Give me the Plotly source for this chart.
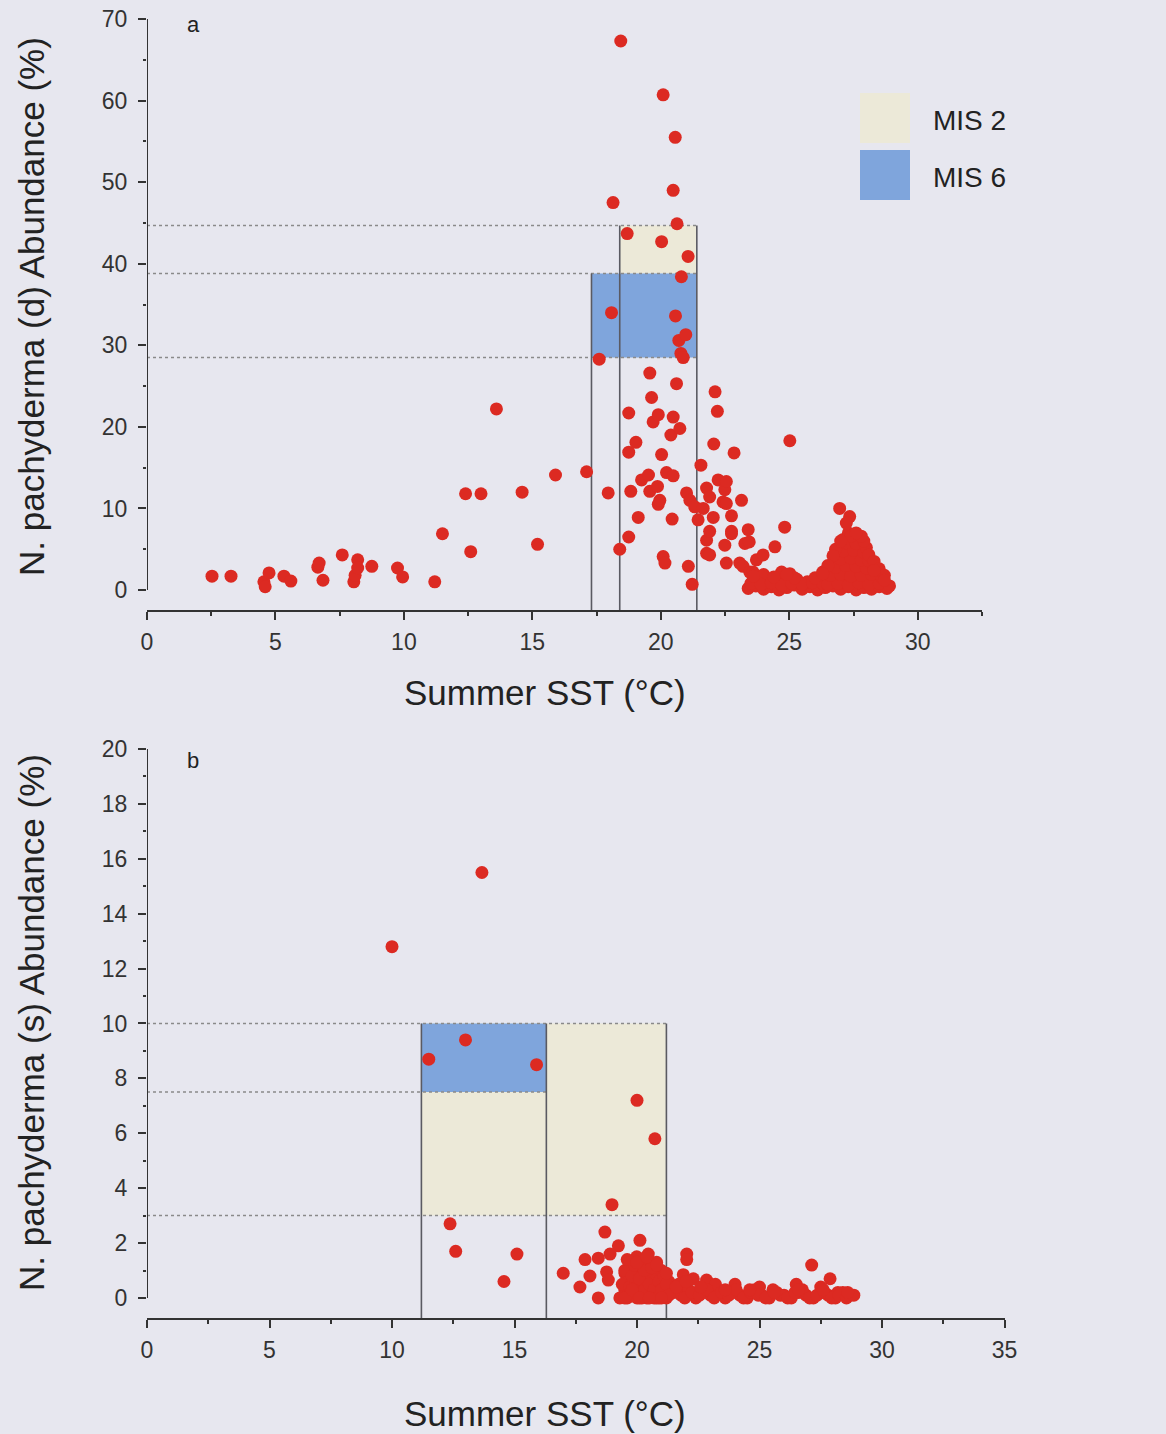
import plotly.graph_objects as go

# ---- Panel a: N. pachyderma (d) vs summer SST ----
sst_a = [
    2.53, 3.27, 4.55, 4.6, 4.75, 5.33, 5.6, 6.65, 6.7, 6.85, 7.6, 8.05, 8.1, 8.2, 8.2, 8.75,
    9.75, 9.95, 11.2, 11.5, 12.4, 12.6, 13.0, 13.6, 14.6, 15.2, 15.9, 17.11, 17.6, 18.08,
    17.95, 18.4, 18.75, 18.75, 18.75, 18.83, 19.03, 19.12, 19.25, 19.52, 19.57, 19.57, 19.64,
    19.7, 19.87, 19.9, 19.9, 19.96, 20.03, 20.09, 20.16, 20.22, 20.39, 20.44, 20.48, 20.48,
    20.57, 20.61, 20.7, 20.74, 20.78, 20.87, 20.97, 21.0, 21.07, 21.13, 21.22, 21.32, 21.45,
    21.56, 21.65, 21.78, 21.78, 21.78, 21.9, 21.9, 21.9, 22.04, 22.06, 22.11, 22.2, 22.23,
    22.42, 22.49, 22.49, 22.55, 22.55, 22.55, 22.75, 22.75, 22.75, 22.85, 23.07, 23.14, 23.2,
    23.27, 23.4, 23.44, 23.46, 23.59, 23.72, 23.98, 24.44, 24.82, 25.02, 25.02,
    18.44, 20.09, 20.56, 20.48, 18.14, 20.63, 18.69, 20.03, 21.06, 20.8,
    # warm-water samples crowded near the bottom
    23.4, 23.7, 24.0, 24.3, 24.6, 24.9, 25.2, 25.5, 25.8, 26.1, 26.4, 26.7, 27.0, 27.3, 27.6,
    27.9, 28.2, 28.5, 28.8,
    23.8, 24.2, 24.6, 25.0, 25.3, 25.7, 26.2, 26.6, 27.0, 27.4, 27.8, 28.2, 28.6,
    24.0, 24.7, 25.0, 26.3, 26.8, 27.1, 27.5, 27.9, 28.4,
    26.7, 27.0, 27.3, 27.6, 28.0,
    26.9, 27.2, 27.5, 27.8,
    27.0, 27.3, 27.6,
    27.1, 27.5,
    27.3, 26.96, 27.35, 27.22,
    23.5, 23.9, 24.3, 24.7, 25.1, 25.5, 25.9, 26.3,
    23.6, 24.4, 25.2, 26.0, 24.9,
    26.5, 26.9, 27.3, 27.7, 28.1, 28.5, 28.9,
    26.6, 27.0, 27.4, 27.8, 28.2, 28.6,
    26.8, 27.2, 27.6, 28.0, 28.3,
    27.0, 27.4, 27.8, 28.1,
    27.1, 27.5, 27.9,
    27.2, 27.6,
    27.4,
    26.8, 28.0, 28.1, 26.7, 28.3, 26.5, 28.5, 26.3, 28.7, 27.9, 27.8, 27.0, 27.6, 28.7, 28.3,
]
abund_a = [
    1.7, 1.7, 1.0, 0.4, 2.1, 1.7, 1.1, 2.8, 3.3, 1.2, 4.3, 1.0, 1.8, 3.7, 2.7, 2.9,
    2.7, 1.6, 1.0, 6.9, 11.8, 4.7, 11.8, 22.2, 12.0, 5.6, 14.1, 14.5, 28.3, 34.0,
    11.9, 5.0, 6.5, 16.9, 21.7, 12.1, 18.1, 8.9, 13.5, 14.1, 26.6, 12.1, 23.6,
    20.6, 12.7, 21.5, 10.5, 11.0, 16.6, 4.1, 3.3, 14.4, 19.0, 8.7, 21.2, 14.0,
    33.6, 25.3, 30.6, 19.8, 29.0, 28.5, 31.3, 11.9, 2.9, 11.0, 0.7, 10.2, 8.6,
    15.3, 10.0, 12.5, 6.1, 4.5, 11.4, 7.2, 4.3, 8.9, 17.9, 24.3, 21.9, 13.5,
    10.8, 12.3, 5.5, 13.3, 10.6, 3.3, 9.1, 7.2, 6.9, 16.8, 3.3, 11.0, 2.9,
    5.7, 7.4, 5.9, 2.2, 2.2, 3.7, 4.3, 5.3, 7.7, 18.3, 2.0,
    67.3, 60.7, 55.5, 49.0, 47.5, 44.9, 43.7, 42.7, 40.9, 38.4,
    0.2, 0.5, 0.1, 0.4, 0.0, 0.3, 0.6, 0.1, 0.4, 0.0, 0.3, 0.5, 0.1, 0.4, 0.0,
    0.3, 0.1, 0.4, 0.2,
    1.2, 1.0, 1.4, 1.1, 1.3, 1.0, 1.2, 1.5, 1.1, 1.4, 1.2, 1.0, 1.3,
    1.9, 2.2, 1.9, 2.2, 2.4, 2.6, 2.3, 2.5, 2.0,
    3.2, 3.5, 3.3, 3.4, 3.1,
    4.3, 4.1, 4.5, 4.2,
    5.2, 5.5, 5.1,
    6.2, 6.4,
    7.0, 10.0, 9.0, 8.2,
    0.8, 0.7, 0.9, 0.6, 0.8, 0.7, 0.9, 0.8,
    1.7, 1.6, 1.5, 1.5, 1.9,
    0.7, 0.8, 0.6, 0.9, 0.7, 0.8, 0.5,
    1.8, 1.9, 1.7, 1.8, 1.9, 1.6,
    2.8, 3.0, 2.9, 2.7, 2.6,
    3.8, 3.9, 3.7, 3.6,
    4.8, 4.9, 4.6,
    5.8, 5.7,
    6.6,
    5.0, 5.2, 4.3, 4.2, 3.5, 3.0, 2.6, 2.0, 1.8, 6.0, 6.6, 6.0, 7.0, 1.2, 2.4,
]

# ---- Panel b: N. pachyderma (s) vs summer SST ----
sst_b = [
    10.0, 13.67, 11.5, 13.0, 15.9, 20.0, 20.73, 18.98, 12.37, 12.6, 15.1, 14.57,
    18.69, 20.12, 19.24, 22.03, 22.03, 20.46, 17.88, 18.42, 18.9, 19.99, 20.8, 16.99,
    18.08, 18.76, 17.67, 18.42, 18.83, 19.51, 27.13, 27.88, 21.89, 22.84,
    19.5, 19.6, 19.7, 19.8, 19.9, 20.0, 20.1, 20.2, 20.3, 20.4, 20.5, 20.6, 20.7, 20.8,
    20.9, 21.0, 21.1, 21.2, 19.6, 20.0, 20.4, 20.9, 21.3, 21.5, 21.7,
    21.8, 22.1, 22.4, 22.7, 23.0, 23.3, 23.6, 23.9, 24.2, 24.5, 24.8, 25.1, 25.4, 25.7,
    26.0, 26.3, 26.6, 26.9, 27.2, 27.5, 27.8, 28.1, 28.4, 28.7,
    22.3, 23.2, 24.0, 25.0, 26.5, 27.5, 28.2,
    19.4, 19.5, 19.7, 19.8, 19.9, 20.0, 20.1, 20.2, 20.3, 20.3, 20.5, 20.6, 20.7, 20.8,
    20.9, 21.0, 21.1, 21.2, 21.3, 19.3, 19.5, 19.8, 20.1, 20.5, 21.0,
    21.95, 22.25, 22.55, 22.85, 23.15, 23.45, 23.75, 24.05, 24.35, 24.65, 24.95, 25.25,
    25.55, 25.85, 26.15, 26.45, 26.75, 27.05, 27.35, 27.65, 27.95, 28.25, 28.55, 28.85,
    19.6, 20.0, 20.4, 20.8, 21.2, 21.6, 22.0, 22.6, 23.6, 24.6, 25.6, 26.6, 27.6, 28.6,
]
abund_b = [
    12.8, 15.5, 8.7, 9.4, 8.5, 7.2, 5.8, 3.4, 2.7, 1.7, 1.6, 0.6,
    2.4, 2.1, 1.9, 1.6, 1.4, 1.6, 1.4, 1.45, 1.6, 1.5, 1.3, 0.9,
    0.8, 0.95, 0.4, 0.0, 0.65, 0.9, 1.2, 0.7, 0.85, 0.65,
    0.3, 0.7, 1.1, 0.1, 0.5, 0.9, 0.2, 1.2, 0.6, 0.1, 0.9, 0.4, 0.0, 0.7,
    0.2, 1.0, 0.4, 0.0, 0.0, 0.0, 0.0, 0.0, 0.6, 0.2, 0.5,
    0.1, 0.3, 0.0, 0.2, 0.1, 0.3, 0.0, 0.2, 0.1, 0.0, 0.3, 0.1, 0.0, 0.2,
    0.1, 0.0, 0.2, 0.1, 0.0, 0.2, 0.1, 0.0, 0.2, 0.1,
    0.7, 0.5, 0.5, 0.4, 0.5, 0.4, 0.2,
    0.5, 1.0, 0.4, 0.8, 1.2, 0.4, 0.7, 0.0, 0.3, 1.0, 0.5, 1.1, 0.3, 0.0,
    0.6, 0.3, 0.8, 0.5, 0.1, 0.0, 0.0, 0.3, 0.0, 0.0, 0.0,
    0.0, 0.2, 0.1, 0.3, 0.0, 0.2, 0.1, 0.3, 0.0, 0.2, 0.1, 0.0,
    0.3, 0.1, 0.0, 0.2, 0.3, 0.0, 0.1, 0.2, 0.0, 0.1, 0.0, 0.1,
    1.4, 1.3, 1.5, 1.2, 0.9, 0.4, 0.6, 0.4, 0.3, 0.3, 0.2, 0.3, 0.3, 0.2,
]

# MIS ranges (SST min/max, abundance min/max)
mis2_a = dict(x0=18.4, x1=21.4, y0=38.8, y1=44.7)
mis6_a = dict(x0=17.3, x1=21.4, y0=28.5, y1=38.8)
mis2_b = dict(x0=11.2, x1=21.2, y0=3.0, y1=10.0)
mis6_b = dict(x0=11.2, x1=16.3, y0=7.5, y1=10.0)

BG = "#e7e7ef"
AX = "#333333"
RED = "#dc2a22"
BEIGE = "#ece9d8"
BLUE = "#7fa5dc"
FONT = "Liberation Sans, Arial, sans-serif"
W, H = 1166, 1434

fig = go.Figure()
fig.add_trace(go.Scatter(x=sst_a, y=abund_a, mode="markers", xaxis="x", yaxis="y",
                         marker=dict(size=13, color=RED), showlegend=False))
fig.add_trace(go.Scatter(x=sst_b, y=abund_b, mode="markers", xaxis="x2", yaxis="y2",
                         marker=dict(size=13, color=RED), showlegend=False))


def panel_shapes(xr, yr, mis2, mis6, ymin, ytop, hlines, vlines):
    out = []
    out.append(dict(type="rect", xref=xr, yref=yr, layer="below", line=dict(width=0),
                    fillcolor=BEIGE, **mis2))
    out.append(dict(type="rect", xref=xr, yref=yr, layer="below", line=dict(width=0),
                    fillcolor=BLUE, **mis6))
    for yv, xend in hlines:
        out.append(dict(type="line", xref=xr, yref=yr, layer="below", x0=0, x1=xend,
                        y0=yv, y1=yv, line=dict(color="#8a8a8a", width=1.5, dash="dot")))
    for xv, ytopv in vlines:
        out.append(dict(type="line", xref=xr, yref=yr, layer="below", x0=xv, x1=xv,
                        y0=ymin, y1=ytopv, line=dict(color="#5a5a62", width=1.6)))
    # left axis spine from 0 up to the top value
    out.append(dict(type="line", xref=xr, yref=yr, x0=0, x1=0, y0=0, y1=ytop,
                    line=dict(color=AX, width=2)))
    return out


shapes = []
shapes += panel_shapes("x", "y", mis2_a, mis6_a, -2.45, 70,
                       [(44.7, 21.4), (38.8, 21.4), (28.5, 21.4)],
                       [(17.3, 38.8), (18.4, 44.7), (21.4, 44.7)])
shapes += panel_shapes("x2", "y2", mis2_b, mis6_b, -0.73, 20,
                       [(10.0, 21.2), (7.5, 16.3), (3.0, 21.2)],
                       [(11.2, 10.0), (16.3, 10.0), (21.2, 10.0)])

# legend swatches
shapes.append(dict(type="rect", xref="paper", yref="paper", line=dict(width=0), fillcolor=BEIGE,
                   x0=860 / W, x1=910 / W, y0=1 - 143 / H, y1=1 - 93 / H))
shapes.append(dict(type="rect", xref="paper", yref="paper", line=dict(width=0), fillcolor=BLUE,
                   x0=860 / W, x1=910 / W, y0=1 - 200 / H, y1=1 - 150 / H))

tickfont = dict(family=FONT, size=23, color=AX)
xcommon = dict(showline=True, linecolor=AX, linewidth=2, ticks="outside", ticklen=8,
               tickwidth=2, tickcolor=AX, showgrid=False, zeroline=False, tickfont=tickfont,
               ticklabelstandoff=2, automargin=False)
ycommon = dict(showline=False, ticks="outside", ticklen=8, tickwidth=2, tickcolor=AX,
               showgrid=False, zeroline=False, tickfont=tickfont, ticklabelstandoff=6,
               automargin=False)

fig.update_layout(
    width=W, height=H,
    margin=dict(l=0, r=0, t=0, b=0, autoexpand=False),
    paper_bgcolor=BG, plot_bgcolor=BG,
    font=dict(family=FONT, color="#222"),
    shapes=shapes,
    xaxis=dict(domain=[147 / W, 982 / W], range=[0, 32.5], anchor="y",
               tick0=0, dtick=5,
               minor=dict(dtick=2.5, ticks="outside", ticklen=4, tickcolor=AX, tickwidth=2),
               **xcommon),
    yaxis=dict(domain=[1 - 610 / H, 1 - 19 / H], range=[-2.45, 70], anchor="x",
               tick0=0, dtick=10,
               minor=dict(dtick=5, ticks="outside", ticklen=3, tickcolor=AX, tickwidth=2),
               **ycommon),
    xaxis2=dict(domain=[147 / W, 1004.5 / W], range=[0, 35], anchor="y2",
                tick0=0, dtick=5,
                minor=dict(dtick=2.5, ticks="outside", ticklen=4, tickcolor=AX, tickwidth=2),
                **xcommon),
    yaxis2=dict(domain=[1 - 1318 / H, 1 - 749 / H], range=[-0.73, 20], anchor="x2",
                tick0=0, dtick=2,
                minor=dict(dtick=1, ticks="outside", ticklen=3, tickcolor=AX, tickwidth=2),
                **ycommon),
)

title_font = dict(family=FONT, size=35, color="#222")
lab_font = dict(family=FONT, size=22, color="#222")
leg_font = dict(family=FONT, size=28, color="#222")


def note(text, px, py, font, xanchor="center", angle=0):
    return dict(text=text, x=px / W, y=1 - py / H, xref="paper", yref="paper",
                showarrow=False, font=font, xanchor=xanchor, yanchor="middle",
                textangle=angle)


ann = [
    note("Summer SST (°C)", 545, 693, title_font),
    note("Summer SST (°C)", 545, 1413, title_font),
    note("N. pachyderma (d) Abundance (%)", 32, 307, title_font, angle=-90),
    note("N. pachyderma (s) Abundance (%)", 32, 1023, title_font, angle=-90),
    note("a", 193, 25, lab_font),
    note("b", 193, 760, lab_font),
    note("MIS 2", 931, 120, leg_font, xanchor="left"),
    note("MIS 6", 931, 177, leg_font, xanchor="left"),
]
fig.update_layout(annotations=ann)

fig.write_html("out.html")
